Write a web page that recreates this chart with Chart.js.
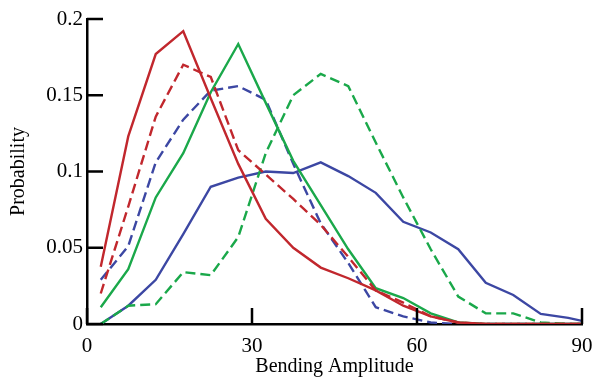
<!DOCTYPE html>
<html>
<head>
<meta charset="utf-8">
<script src="https://cdn.jsdelivr.net/npm/chart.js@4.4.1/dist/chart.umd.min.js"></script>
<style>
  body { margin: 0; background: #fff; }
  canvas { display: block; }
</style>
</head>
<body>
<canvas id="chart" width="593" height="377"></canvas>
<script>

//----- Data -----//

const amplitude = [2.5, 7.5, 12.5, 17.5, 22.5, 27.5, 32.5, 37.5, 42.5, 47.5, 52.5, 57.5, 62.5, 67.5, 72.5, 77.5, 82.5, 87.5, 90]

const redSolid    = [0.0375, 0.123, 0.177, 0.192, 0.148, 0.105, 0.069, 0.050, 0.037, 0.030, 0.022, 0.012, 0.005, 0.001, 0, 0, 0, 0, 0]
const redDashed   = [0.020, 0.077, 0.136, 0.170, 0.162, 0.114, 0.098, 0.082, 0.065, 0.044, 0.022, 0.014, 0.005, 0.001, 0, 0, 0, 0, 0]
const greenSolid  = [0.011, 0.036, 0.083, 0.112, 0.152, 0.1836, 0.145, 0.107, 0.078, 0.049, 0.0235, 0.017, 0.007, 0.001, 0, 0, 0, 0, 0]
const greenDashed = [0, 0.012, 0.013, 0.034, 0.032, 0.057, 0.112, 0.150, 0.164, 0.156, 0.119, 0.083, 0.049, 0.018, 0.007, 0.007, 0.001, 0, 0]
const blueSolid   = [0, 0.012, 0.029, 0.059, 0.090, 0.096, 0.100, 0.099, 0.106, 0.097, 0.086, 0.067, 0.060, 0.049, 0.027, 0.019, 0.0066, 0.004, 0.002]
const blueDashed  = [0.029, 0.051, 0.106, 0.134, 0.153, 0.156, 0.147, 0.105, 0.066, 0.040, 0.011, 0.005, 0.001, 0, 0, 0, 0, 0, 0]

const xTicks = [0, 30, 60, 90]
const yTicks = [0, 0.05, 0.1, 0.15, 0.2]
const yTickLabels = ['0', '0.05', '0.1', '0.15', '0.2']

//----- Helpers -----//

const RED = '#c1272d'
const GREEN = '#1aa84a'
const BLUE = '#3c47a3'

function series(values, color, dashed) {
  return {
    data: values.map((v, i) => ({ x: amplitude[i], y: v })),
    borderColor: color,
    borderWidth: 2.4,
    borderDash: dashed ? [10, 5] : [],
    pointRadius: 0,
    tension: 0,
    fill: false
  }
}

const serif = { family: '"Liberation Serif", "DejaVu Serif", serif', size: 20 }
const tickFont = { family: '"Liberation Serif", "DejaVu Serif", serif', size: 21 }

// ticks pointing into the plot, like the original
const inwardTicks = {
  id: 'inwardTicks',
  afterDatasetsDraw(chart) {
    const { ctx, chartArea, scales } = chart
    ctx.save()
    ctx.strokeStyle = '#000'
    ctx.lineWidth = 2.5
    ctx.beginPath()
    scales.x.ticks.forEach(t => {
      const px = scales.x.getPixelForValue(t.value)
      ctx.moveTo(px, chartArea.bottom)
      ctx.lineTo(px, chartArea.bottom - 16)
    })
    scales.y.ticks.forEach(t => {
      const py = scales.y.getPixelForValue(t.value)
      ctx.moveTo(chartArea.left, py)
      ctx.lineTo(chartArea.left + 16, py)
    })
    ctx.stroke()
    ctx.restore()
  }
}

//----- Chart -----//

new Chart(document.getElementById('chart'), {
  type: 'line',
  data: {
    datasets: [
      series(redSolid, RED, false),
      series(redDashed, RED, true),
      series(greenSolid, GREEN, false),
      series(greenDashed, GREEN, true),
      series(blueSolid, BLUE, false),
      series(blueDashed, BLUE, true)
    ]
  },
  options: {
    responsive: false,
    animation: false,
    layout: { padding: { top: 19, right: 11, left: 0, bottom: 0 } },
    plugins: { legend: { display: false }, tooltip: { enabled: false } },
    scales: {
      x: {
        type: 'linear',
        min: 0,
        max: 90,
        grid: { display: false, drawTicks: false },
        border: { display: true, color: '#000', width: 2.5 },
        ticks: { color: '#000', font: tickFont, padding: 10, maxRotation: 0 },
        afterBuildTicks: s => { s.ticks = xTicks.map(v => ({ value: v })) },
        afterFit: s => { s.height = 53; s.paddingRight = 0; s.paddingLeft = 0 },
        title: {
          display: true,
          text: 'Bending Amplitude',
          color: '#000',
          font: { ...serif, lineHeight: 1 },
          padding: { top: 0, bottom: 0 }
        }
      },
      y: {
        min: 0,
        max: 0.2,
        grid: { display: false, drawTicks: false },
        border: { display: true, color: '#000', width: 2.5 },
        ticks: {
          color: '#000',
          font: tickFont,
          padding: 4,
          callback: (v, i) => yTickLabels[i]
        },
        afterBuildTicks: s => { s.ticks = yTicks.map(v => ({ value: v })) },
        afterFit: s => { s.width = 87; s.paddingTop = 0; s.paddingBottom = 0 },
        title: {
          display: true,
          text: 'Probability',
          color: '#000',
          font: { ...serif, lineHeight: 1 },
          padding: { top: 9, bottom: 0 }
        }
      }
    }
  },
  plugins: [inwardTicks]
})

</script>
</body>
</html>
